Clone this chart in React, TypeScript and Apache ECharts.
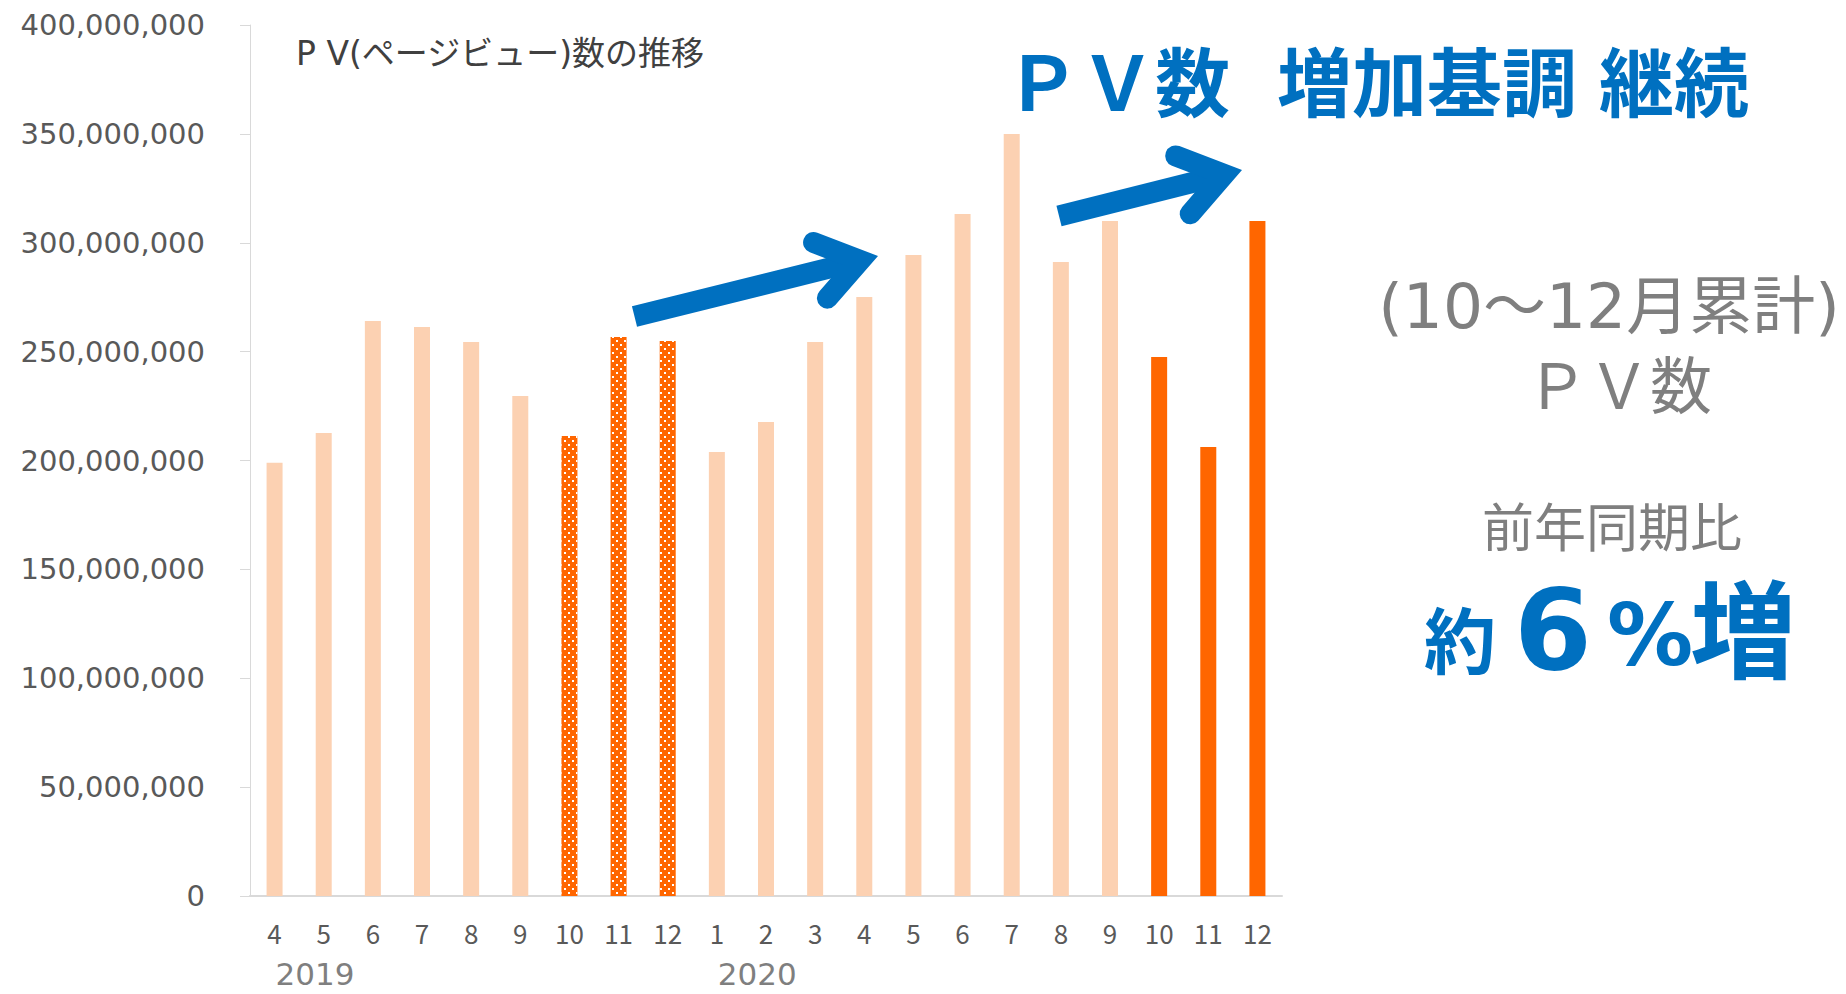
import React, { useEffect, useRef } from 'react';
import * as echarts from 'echarts';

// ---- data ----
const months = ['4', '5', '6', '7', '8', '9', '10', '11', '12', '1', '2', '3', '4', '5', '6', '7', '8', '9', '10', '11', '12'];
const yearLabels = ['2019', '2020'];
const pvValues = [
  199.0e6, 212.6e6, 264.1e6, 261.3e6, 254.4e6, 229.6e6, 211.3e6, 256.7e6, 254.9e6,
  203.9e6, 217.7e6, 254.4e6, 275.1e6, 294.4e6, 313.2e6, 349.9e6, 291.2e6, 310.0e6,
  247.5e6, 206.2e6, 310.0e6,
];
const prevYearPeriod = [6, 7, 8]; // 2019年10〜12月
const currYearPeriod = [18, 19, 20]; // 2020年10〜12月
const yMin = 0;
const yMax = 400e6;
const yInterval = 50e6;

const chartTitle = 'P V(ページビュー)数の推移';
const headline = ['ＰＶ数', '増加基調', '継続'];
const sideLines = ['(10～12月累計)', 'ＰＶ数', '前年同期比'];
const growthParts = ['約', '6', '%', '増'];

// ---- styles ----
const LIGHT = '#FCD1B2';
const DARK = '#FF6600';
const BLUE = '#0070C0';
const GRAY = '#7f7f7f';
const AXIS = '#d9d9d9';
const LABEL = '#595959';
const CJK = "'Noto Sans CJK JP', sans-serif";
const DEJA = "'DejaVu Sans', sans-serif";
const MIX = "'DejaVu Sans', 'Noto Sans CJK JP', sans-serif";

const dotDecal = {
  symbol: 'rect',
  symbolSize: 1,
  color: '#ffffff',
  dashArrayX: [[2, 6], [0, 4, 2, 2]],
  dashArrayY: [2, 2],
};

function arrow(tail: number[], tip: number[], w: number, barbLen: number, halfDeg: number) {
  const dx = tip[0] - tail[0];
  const dy = tip[1] - tail[1];
  const len = Math.hypot(dx, dy);
  const ux = dx / len;
  const uy = dy / len;
  const half = (halfDeg * Math.PI) / 180;
  const off = w / 2 / Math.sin(half);
  const vx = tip[0] - off * ux;
  const vy = tip[1] - off * uy;
  const base = Math.atan2(-uy, -ux);
  const b1 = [vx + barbLen * Math.cos(base + half), vy + barbLen * Math.sin(base + half)];
  const b2 = [vx + barbLen * Math.cos(base - half), vy + barbLen * Math.sin(base - half)];
  return [
    {
      type: 'line',
      shape: { x1: tail[0], y1: tail[1], x2: vx, y2: vy },
      style: { stroke: BLUE, lineWidth: w, lineCap: 'butt' },
      z: 10,
    },
    {
      type: 'polyline',
      shape: { points: [b1, [vx, vy], b2] },
      style: { stroke: BLUE, lineWidth: w, lineCap: 'round', lineJoin: 'miter', miterLimit: 10, fill: null },
      z: 10,
    },
  ];
}

export default function App() {
  const ref = useRef<HTMLDivElement>(null);

  useEffect(() => {
    if (!ref.current) return;
    const chart = echarts.init(ref.current, null, { renderer: 'svg' });

    const data = pvValues.map((v, i) => {
      if (prevYearPeriod.includes(i)) return { value: v, itemStyle: { color: DARK, decal: dotDecal } };
      if (currYearPeriod.includes(i)) return { value: v, itemStyle: { color: DARK } };
      return { value: v, itemStyle: { color: LIGHT } };
    });

    chart.setOption({
      animation: false,
      grid: { left: 250, right: 564, top: 25, bottom: 98, containLabel: false, outerBoundsMode: 'none' },
      xAxis: {
        type: 'category',
        data: months,
        axisLine: { lineStyle: { color: AXIS, width: 2 } },
        axisTick: { show: false },
        axisLabel: { color: LABEL, fontSize: 26, fontFamily: CJK, margin: 23, interval: 0 },
      },
      yAxis: {
        type: 'value',
        min: yMin,
        max: yMax,
        interval: yInterval,
        axisLine: { show: true, lineStyle: { color: AXIS, width: 1 } },
        axisTick: { show: true, length: 10, lineStyle: { color: AXIS, width: 1 } },
        splitLine: { show: false },
        axisLabel: {
          color: LABEL,
          fontSize: 29,
          fontFamily: DEJA,
          margin: 45,
          formatter: (v: number) => v.toLocaleString('en-US'),
        },
      },
      series: [{ type: 'bar', data, barWidth: 16 }],
    });

    // year labels start at first month of each year
    const yearStarts: number[] = [0];
    months.forEach((m, i) => {
      if (i > 0 && m === '1') yearStarts.push(i);
    });
    const yearGraphics = yearLabels.map((y, k) => {
      const px = chart.convertToPixel({ xAxisIndex: 0 }, yearStarts[k]) as number;
      return {
        type: 'text',
        x: px + 1,
        y: 974,
        style: { text: y, fill: GRAY, fontSize: 31, lineHeight: 31, fontFamily: DEJA, align: 'left', verticalAlign: 'middle' },
      };
    });

    const txt = (text: string, x: number, y: number, size: number, color: string, family: string, weight = 'normal', align = 'center', lh?: number) => ({
      type: 'text',
      x,
      y,
      style: {
        text, fill: color, fontSize: size, fontFamily: family, fontWeight: weight, align, verticalAlign: 'middle',
        lineHeight: lh ?? size,
      },
      z: 20,
    });

    chart.setOption({
      graphic: [
        ...yearGraphics,
        txt(chartTitle, 296, 53, 33, '#404040', MIX, 'normal', 'left'),
        txt(headline[0], 1005, 78, 75, BLUE, CJK, 'bold', 'left'),
        txt(headline[1], 1277, 78, 75, BLUE, CJK, 'bold', 'left'),
        txt(headline[2], 1599, 78, 75, BLUE, CJK, 'bold', 'left'),
        txt(sideLines[0], 1609, 306, 63, GRAY, MIX, 'normal', 'center', 63),
        txt(sideLines[1], 1619, 382, 62, GRAY, CJK, 'normal', 'center', 62),
        txt(sideLines[2], 1612, 524, 52, GRAY, CJK, 'normal', 'center', 52),
        txt(growthParts[0], 1460, 636, 72, BLUE, CJK, 'bold', 'center', 72),
        txt(growthParts[1], 1553, 630, 112, BLUE, DEJA, 'bold', 'center', 96),
        txt(growthParts[2], 1650, 635, 86, BLUE, DEJA, 'bold', 'center', 80),
        txt(growthParts[3], 1743, 624, 106, BLUE, CJK, 'bold', 'center', 96),
        ...arrow([634.5, 316.5], [878, 256], 21, 50, 35),
        ...arrow([1059, 216], [1242, 170], 21, 52, 35),
      ],
    });

    return () => chart.dispose();
  }, []);

  return (
    <div
      ref={ref}
      style={{ position: 'fixed', left: 0, top: 0, width: '1846px', height: '994px', background: '#ffffff' }}
    />
  );
}
